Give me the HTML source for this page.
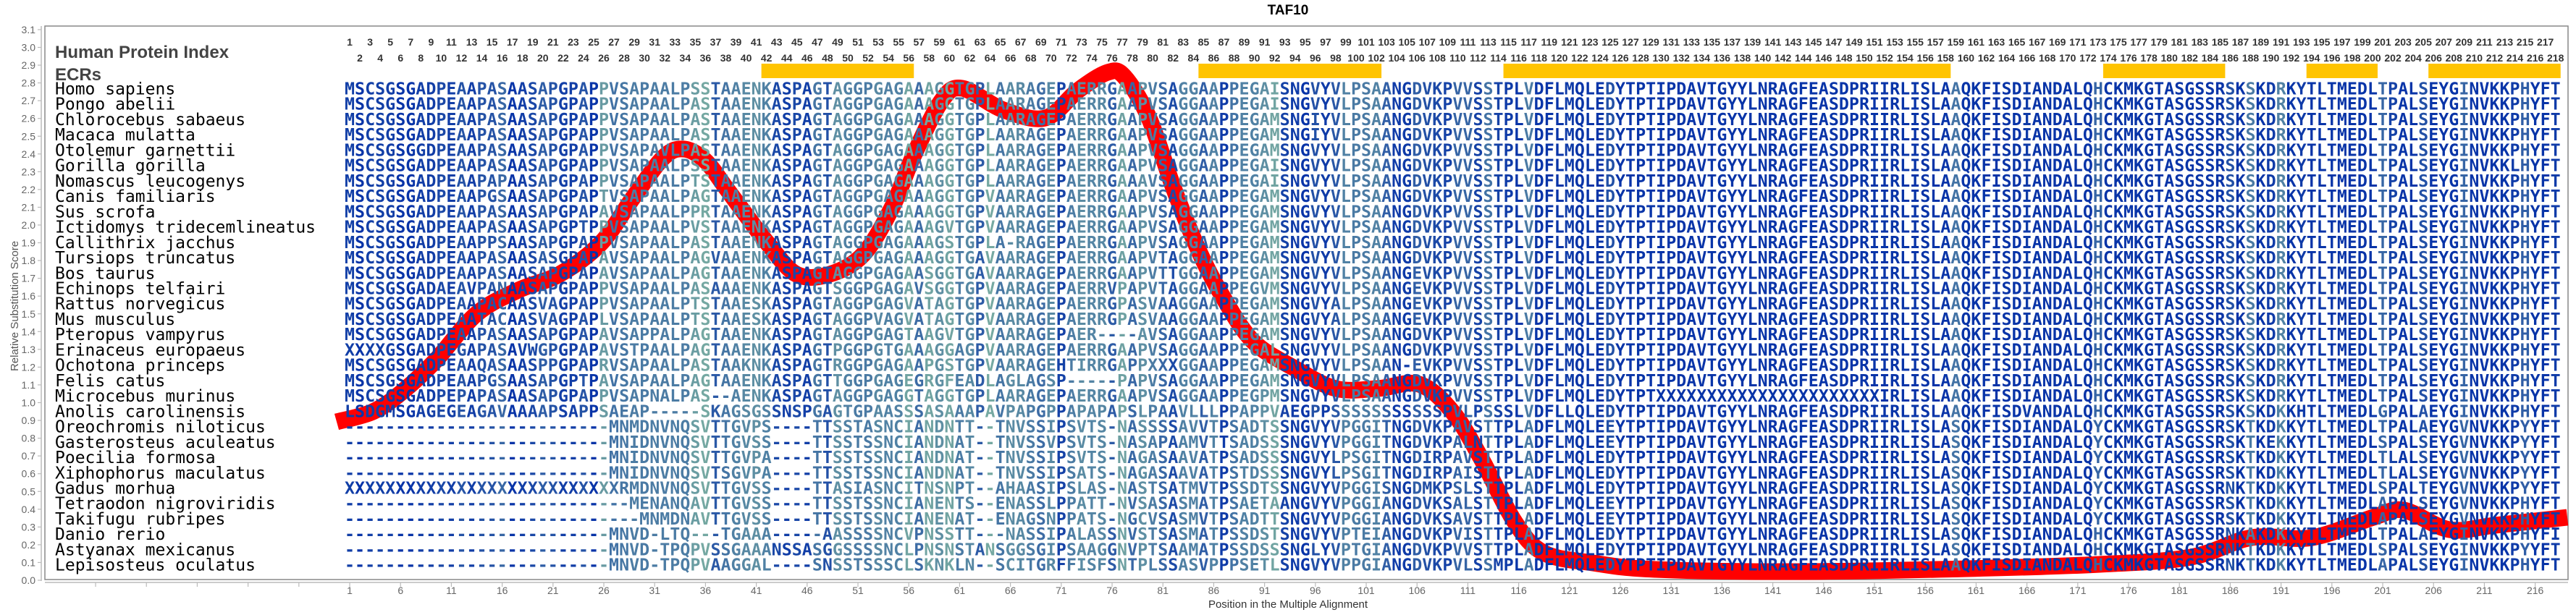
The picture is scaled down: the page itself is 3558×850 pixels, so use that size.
<!DOCTYPE html>
<html><head><meta charset="utf-8"><style>
html,body{margin:0;padding:0;background:#fff;}
svg{display:block;}
</style></head><body>
<svg id="s" xmlns="http://www.w3.org/2000/svg" width="3558" height="850" viewBox="0 0 3558 850">
<rect width="3558" height="850" fill="#fff"/>
<text x="1779" y="20" text-anchor="middle" font-family="Liberation Sans, sans-serif" font-weight="bold" font-size="19" fill="#000">TAF10</text>
<rect x="62" y="36" width="3485" height="765" fill="none" stroke="#888" stroke-width="1.5"/>
<line x1="57" y1="36" x2="57" y2="803" stroke="#bbb" stroke-width="1.5"/>
<line x1="62" y1="805" x2="3547" y2="805" stroke="#bbb" stroke-width="1.5"/>
<g id="ax"></g>
<text x="76" y="80" font-family="Liberation Sans, sans-serif" font-weight="bold" font-size="24" fill="#444">Human Protein Index</text>
<text x="76" y="111" font-family="Liberation Sans, sans-serif" font-weight="bold" font-size="24" fill="#444">ECRs</text>
<g id="bars" fill="#ffc400"></g>
<g id="nums" font-family="Liberation Sans, sans-serif" font-weight="bold" font-size="14" fill="#333" text-anchor="middle"></g>
<path id="curve" fill="none" stroke="#ff0000" stroke-width="23" stroke-linejoin="round"/>
<g id="names" font-family="DejaVu Sans Mono, Liberation Mono, monospace" font-size="23" fill="#000"></g>
<g id="seqs" font-family="DejaVu Sans Mono, Liberation Mono, monospace" font-weight="bold" font-size="23.3" text-anchor="middle"></g>
<text transform="translate(25,423) rotate(-90)" text-anchor="middle" font-family="Liberation Sans, sans-serif" font-size="15" fill="#555">Relative Substitution Score</text>
<text x="1779" y="840" text-anchor="middle" font-family="Liberation Sans, sans-serif" font-size="15" fill="#333">Position in the Multiple Alignment</text>
</svg>
<script>
var NS="http://www.w3.org/2000/svg";
function el(t,a,txt,p){var e=document.createElementNS(NS,t);for(var k in a)e.setAttribute(k,a[k]);if(txt!=null)e.textContent=txt;p.appendChild(e);return e;}
var X0=476,CW=14.04;function cx(i){return X0+(i-1)*CW+CW/2;}
var ax=document.getElementById('ax');
for(var k=0;k<=31;k++){var v=k/10,y=802-v*245.5;
el('line',{x1:52,y1:y,x2:57,y2:y,stroke:'#bbb','stroke-width':1.2},null,ax);
el('text',{x:49,y:y+5,'text-anchor':'end','font-family':'Liberation Sans, sans-serif','font-size':14,fill:'#666'},v.toFixed(1),ax);}
for(var k=-6;k<=43;k++){var i=1+5*k,x=cx(i);if(x<62)continue;
el('line',{x1:x,y1:805,x2:x,y2:811,stroke:'#bbb','stroke-width':1.2},null,ax);
if(i>=1)el('text',{x:x,y:821,'text-anchor':'middle','font-family':'Liberation Sans, sans-serif','font-size':14,fill:'#666'},String(i),ax);}
var bars=document.getElementById('bars');
[[42,56],[85,102],[115,158],[174,185],[194,200],[206,218]].forEach(function(b){
el('rect',{x:X0+(b[0]-1)*CW,y:88,width:(b[1]-b[0]+1)*CW,height:20},null,bars);});
var nums=document.getElementById('nums');
for(var i=1;i<=218;i++){el('text',{x:cx(i),y:(i%2?63:85)},String(i),nums);}
var names=["Homo sapiens","Pongo abelii","Chlorocebus sabaeus","Macaca mulatta","Otolemur garnettii","Gorilla gorilla","Nomascus leucogenys","Canis familiaris","Sus scrofa","Ictidomys tridecemlineatus","Callithrix jacchus","Tursiops truncatus","Bos taurus","Echinops telfairi","Rattus norvegicus","Mus musculus","Pteropus vampyrus","Erinaceus europaeus","Ochotona princeps","Felis catus","Microcebus murinus","Anolis carolinensis","Oreochromis niloticus","Gasterosteus aculeatus","Poecilia formosa","Xiphophorus maculatus","Gadus morhua","Tetraodon nigroviridis","Takifugu rubripes","Danio rerio","Astyanax mexicanus","Lepisosteus oculatus"];
var A=[
"MSCSGSGADPEAAPASAASAPGPAPPVSAPAALPSSTAAENKASPAGTAGGPGAGAAA","MSCSGSGADPEAAPASAASAPGPAPPVSAPAALPASTAAENKASPAGTAGGPGAGAAA","MSCSGSGADPEAAPASAASAPGPAPPVSAPAALPASTAAENKASPAGTAGGPGAGAAA","MSCSGSGADPEAAPASAASAPGPAPPVSAPAALPASTAAENKASPAGTAGGPGAGAAA","MSCSGSGGDPEAAPASAASAPGPAPPVSAPAVLPASTAAENKASPAGTAGGPGAGAAA","MSCSGSGADPEAAPASAASAPGPAPPVSAPAALPSSTAAENKASPAGTAGGPGAGAAA","MSCSGSGADPEAAPAPAASAPGPAPPVSAPAALPTSTAAENKASPAGTAGGPGAGAAA","MSCSGSGADPEAAPGSAASAPGPAPTVSAPAALPAGTAAENKASPAGTAGGPGAGAAA","MSCSGSGADPEAAPASAASAPGPAPAVSAPAALPPRTAAENKASPAGTAGGPGAGAAA","MSCSGSGADPEAAPASAASAPGPTPPVSAPAALPVSTAAENKASPAGTAGGPGAGAAA","MSCSGSGADPEAAPPSAASAPGPAPPVSAPAALPASTAAENKASPAGTAGGPGAGAAA","MSCSGSGADPEAAPASAASASGPAPAVSAPAALPAGVAAENKASPAGTAGGPGAGAAA","MSCSGSGADPEAAPASAASAPGPAPAVSAPAALPAGTAAENKASPAGTAGGPGAGAAS","MSCSGSGADAEAVPANAASAPGPAPPVSAPAALPASAAAENKASPAGTSGGPGAGAVS","MSCSGSGADPEAAPACAASVAGPAPPVSAPAALPTSTAAESKASPAGTAGGPGAGVAT","MSCSGSGADPEAATACAASVAGPAPLVSAPAALPTSTAAESKASPAGTAGGPVAGVAT","MSCSGSGADPEAAPASAASAPGPAPAVSAPPALPAGTAAENKASPAGTAGGPGAGTAA","XXXXGSGADPEGAPASAVWGPGPAPAVSTPAALPAGTAAENKASPAGTPGGPGTGAAA","MSCSGSGADPEAAQASAASPPGPAPRVSAPAALPASTAAKNKASPAGTRGGPGAGAAP","MSCSGSGADPEAAPGSAASAPGPTPAVSAPAALPAGTAAENKASPAGTTGGPGAGEGR","MSCSGSGADPEPAPASAASAPGPAPPVSAPNALPAS--AENKASPAGTAGGPGAGGTA","LSDGMSGAGEGEAGAVAAAAPSAPPSAEAP-----SKAGSGSSNSPGAGTGPAASSSA","--------------------------MNMDNVNQSVTTGVPS----TTSSTASNCIAN","--------------------------MNIDNVNQSVTTGVSS----TTSSTSSNCIAN","--------------------------MNIDNVNQSVTTGVPA----TTSSTSSNCIAN","--------------------------MNIDNVNQSVTSGVPA----TTSSTSSNCIAN","XXXXXXXXXXXXXXXXXXXXXXXXXXXRMDNVNQSVTTGVSS----TTASIASNCITN","----------------------------MENANQAVTTGVSS----TTSSTSSNCIAN","-----------------------------MNMDNAVTTGVSS----TTSSTSSNCIAN","--------------------------MNVD-LTQ---TGAAA-----AASSSSNCVPN","--------------------------MNVD-TPQPVSSGAAANSSASGGSSSSNCLPN","--------------------------MNVD-TPQPVAAGGAL----SNSSTSSSCLSK"];
var B=[
"GGTGPLAARAGEPAERRGAAPVSAGGAAPPEGAISNGVYVLPSAANGDVKPVVSSTPLVDFLMQ","GGTGPLAARAGEPAERRGAAPVSAGGAAPPEGAISNGVYVLPSAANGDVKPVVSSTPLVDFLMQ","GGTGPLAARAGEPAERRGAAPVSAGGAAPPEGAMSNGIYVLPSAANGDVKPVVSSTPLVDFLMQ","GGTGPLAARAGEPAERRGAAPVSAGGAAPPEGAMSNGIYVLPSAANGDVKPVVSSTPLVDFLMQ","GGTGPLAARAGEPAERRGAAPVSAGGAAPPEGAMSNGVYVLPSAANGDVKPVVSSTPLVDFLMQ","GGTGPLAARAGEPAERRGAAPVSAGGAAPPEGAISNGVYVLPSAANGDVKPVVSSTPLVDFLMQ","GGTGPLAARAGEPAERRGAAAVSAGGAAPPEGAISNGVYVLPSAANGDVKPVVSSTPLVDFLMQ","GGTGPVAARAGEPAERRGAAPVSAGGAAPPEGAMSNGVYVLPSAANGDVKPVVSSTPLVDFLMQ","GGTGPVAARAGEPAERRGAAPVSAGGAAPPEGAMSNGVYVLPSAANGDVKPVVSSTPLVDFLMQ","GVTGPVAARAGEPAERRGAAPVSAGGAAPPEGAMSNGVYVLPSAANGDVKPVVSSTPLVDFLMQ","GSTGPLA-RAGEPAERRGAAPVSAGGAAPPEGAMSNGVYVLPSAANGDVKPVVSSTPLVDFLMQ","GGTGAVAARAGEPAERRGAAPVTAGGAAPPEGAMSNGVYVLPSAANGDVKPVVSSTPLVDFLMQ","GGTGAVAARAGEPAERRGAAPVTTGGAAPPEGAMSNGVYVLPSAANGEVKPVVSSTPLVDFLMQ","GGTGPVAARAGEPAERRVPAPVTAGGAAPPEGVMSNGVYVLPSAANGEVKPVVSSTPLVDFLMQ","AGTGPVAARAGEPAERRGPASVAAGGAAPPEGAMSNGVYALPSAANGEVKPVVSSTPLVDFLMQ","AGTGPVAARAGEPAERRGPASVAAGGAAPPEGAMSNGVYALPSAANGEVKPVVSSTPLVDFLMQ","GVTGPVAARAGEPAER----AVSAGGAAPPEGAMSNGVYVLPSAANGDVKPVVSSTPLVDFLMQ","GGAGPVAARAGEPAERRGAAPVSAGGAAPPEGALSNGVYVLPSAANGDVKPVVSSTPLVDFLMQ","GSTGPVAARAGEHTIRRGAPPXXXGGAAPPEGAMSNGVYVLPSAAN-EVKPVVSSTPLVDFLMQ","GFEADLAGLAGSP-----PAPVSAGGAAPPEGAMSNGVYVLPSAANGDVKPVVSSTPLVDFLMQ","GGTGPLAARAGEPAERRGAAPVSAGGAAPPEGPMSNGVYVLPSAANGDVKPVVSSTPLVDFLMQ","SAAAPAVPAPGPPAPAPAPSLPAAVLLLPPAPPVAEGPPSSSSSSSSSSSPVLPSSSLVDFLLQ","DNTT--TNVSSIPSVTS-NASSSSAVVTPSADTSSNGVYVPGGITNGDVKPAVSTTPLADFLMQ","DNAT--TNVSSVPSVTS-NASAPAAMVTTSADSSSNGVYVPGGITNGDVKPALNTTPLADFLMQ","DNAT--TNVSSIPSVTS-NAGASAAVATPSADSSSNGVYLPSGITNGDIRPAVSTTPLADFLMQ","DNAT--TNVSSIPSATS-NAGASAAVATPSTDSSSNGVYLPSGITNGDIRPAISTTPLADFLMQ","SNPT--AHAASIPSLAS-NASTSATMVTPSSDTSSNGVYVPGGISNGDMKPSLSTTPLADFLMQ","ENTS--ENASSLPPATT-NVSASASMATPSAETAANGVYVPGGIANGDVKSALSTTPLADFLMQ","ENAT--ENAGSNPPATS-NGCVSASMVTPSADTTSNGVYVPGGIANGDVKSAVSTTPLADFLMQ","SSTT---NASSIPALASSNVSTSASMATPSSDSTSNGVYVPTEIANGDVKPVISTTPLADFLMQ","SNSTANSGGSGIPSAAGGNVPTSAAMATPSSDSSSNGLYVPTGIANGDVKPVVSTTPLADFLMQ","NKLN--SCITGRFFISFSNTPLSSASVPPPSETLSNGVYVPPGIANGDVKPVLSSMPLADFLMQ"];
var C0="LEDYTPTIPDAVTGYYLNRAGFEASDPRIIRLISLAAQKFISDIANDALQ";
var C=[];for(var r=0;r<32;r++)C.push(C0);
C[20]="LEDYTPTXXXXXXXXXXXXXXXXXXXXXXIRLISLAAQKFISDIANDALQ".slice(0,7)+"XXXXXXXXXXXXXXXXXXXXXX"+"IRLISLAAQKFISDIANDALQ";
C[21]="LEDYTPTIPDAVTGYYLNRAGFEASDPRIIRLISLAAQKFISDVANDALQ";
var S1="LEDYTPTIPDAVTGYYLNRAGFEASDPRIIRLISLASQKFISDIANDALQ";
C[22]=S1.replace("LED","LEE");C[23]=S1.replace("LED","LEE");C[24]=S1;C[25]=S1;C[26]=S1;C[27]=S1.replace("LED","LEE");C[28]=S1.replace("LED","LEE");C[29]=S1;C[30]=S1;
var D0="HCKMKGTASGSSRSKSKDRKYTLTMEDLTPALSEYGINVKKPHYFT";
var D=[];for(var r=0;r<32;r++)D.push(D0);
D[5]="HCKMKGTASGSSRSKSKDRKYTLTMEDLTPALSEYGINVKKLHYFT";
D[21]="HCKMKGTASGSSRSKSKDKKHTLTMEDLGPALAEYGINVKKPHYFT";
D[22]="YCKMKGTASGSSRSKTKDKKYTLTMEDLTPALAEYGVNVKKPYYFT";
D[23]="YCKMKGTASGSSRSKTKEKKYTLTMEDLSPALSEYGVNVKKPYYFT";
D[24]="YCKMKGTASGSSRSKTKDKKYTLTMEDLTLALSEYGVNVKKPYYFT";
D[25]=D[24];
D[26]="YCKMKGTASGSSRNKTKDKKYTLTMEDLSPALTEYGVNVKKPYYFT";
D[27]="YCKMKGTASGSSRSKTKDKKYTLTMEDLAPALSEYGVNVKKPHYFT";
D[28]=D[27];
D[29]="HCKMKGTASGSSRNKAKDKKYTLTMEDLTPALAEYGINVKKPHYFI";
D[30]="HCKMKGTASGSSRNKTKDKKYTLTMEDLSPALSEYGINVKKPYYFT";
D[31]="HCKMKGTASGSSRNKTKDKKYTLTMEDLAPALSEYGINVKKPHYFT";
var rows=[];for(var r=0;r<32;r++){var s=(A[r]+B[r]+C[r]+D[r]);while(s.length<218)s+="-";rows.push(s.slice(0,218));}
// column colors
var col=[];
for(var i=0;i<218;i++){var cnt={},n=0,mx=0;for(var r=0;r<32;r++){var ch=rows[r][i];if(ch=='-'||ch=='X')continue;n++;cnt[ch]=(cnt[ch]||0)+1;if(cnt[ch]>mx)mx=cnt[ch];}
var f=n?mx/n:1;var t=Math.max(0,Math.min(1,(1-f)/0.65));
var c1=[8,52,168],c2=[145,198,160];
col.push('rgb('+Math.round(c1[0]+(c2[0]-c1[0])*t)+','+Math.round(c1[1]+(c2[1]-c1[1])*t)+','+Math.round(c1[2]+(c2[2]-c1[2])*t)+')');}
var ng=document.getElementById('names'),sg=document.getElementById('seqs');
for(var r=0;r<32;r++){var y=130.5+r*21.23;
el('text',{x:76,y:y},names[r],ng);
var t=el('text',{y:y},null,sg);
for(var i=0;i<218;i++){el('tspan',{x:cx(i+1).toFixed(2),fill:col[i]},rows[r][i],t);}}
// curve
var P=[[465,583],[515,569],[555,542],[601,499],[658,434],[716,401],[773,379],[830,336],[876,271],[917,217],[945,206],[974,222],[1003,260],[1031,298],[1060,336],[1100,379],[1146,379],[1192,352],[1232,287],[1261,217],[1300,140],[1329,122],[1386,152],[1444,163],[1489,125],[1530,100],[1553,106],[1587,163],[1621,260],[1656,347],[1690,412],[1731,472],[1788,509],[1845,537],[1903,537],[1960,531],[2006,569],[2046,634],[2092,721],[2132,764],[2200,778],[2286,787],[2487,790],[2717,786],[2900,780],[3026,770],[3110,743],[3194,743],[3278,715],[3320,705],[3383,732],[3446,726],[3546,715]];
var d="M"+P[0][0]+","+P[0][1];
for(var i=0;i<P.length-1;i++){var p0=P[Math.max(0,i-1)],p1=P[i],p2=P[i+1],p3=P[Math.min(P.length-1,i+2)];
var c1x=p1[0]+(p2[0]-p0[0])/6,c1y=p1[1]+(p2[1]-p0[1])/6,c2x=p2[0]-(p3[0]-p1[0])/6,c2y=p2[1]-(p3[1]-p1[1])/6;
d+=" C"+c1x.toFixed(1)+","+c1y.toFixed(1)+" "+c2x.toFixed(1)+","+c2y.toFixed(1)+" "+p2[0]+","+p2[1];}
document.getElementById('curve').setAttribute('d',d);
</script>
</body></html>
